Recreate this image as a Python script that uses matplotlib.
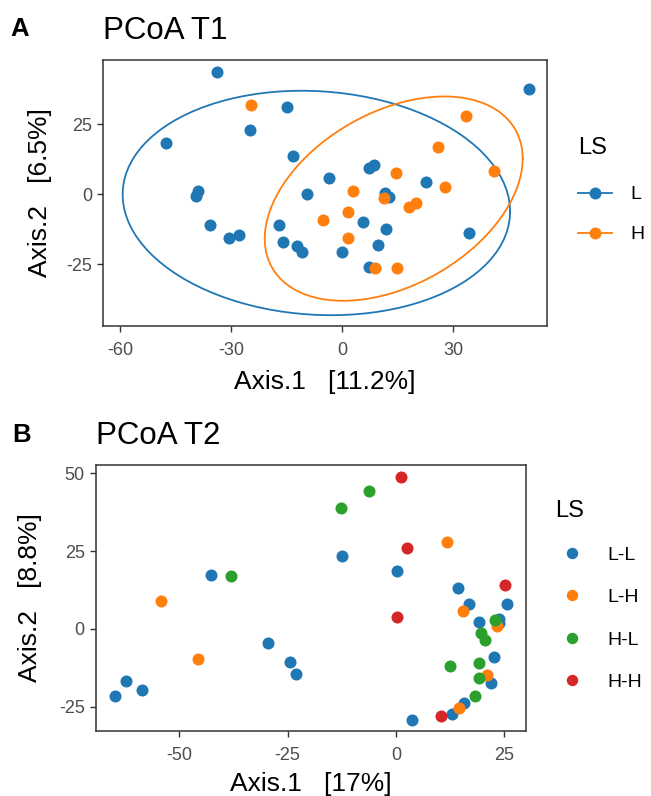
import numpy as np
import matplotlib
matplotlib.use("Agg")
import matplotlib.pyplot as plt
from matplotlib.lines import Line2D

plt.rcParams['font.family'] = ['Liberation Sans', 'DejaVu Sans']
plt.rcParams['axes.unicode_minus'] = False

# panel A (T1) - group L / H
t1_L_x = [-34.0, 50.4, -15.0, -25.0, -47.7, -13.3, 7.3, 8.6, -3.5, 22.6, -39.0, -39.7, -9.7, 11.4,
          12.6, -35.7, -17.1, 5.5, 11.9, -30.7, -27.9, -16.1, -12.3, -10.8, 0.0, 9.5, 34.2, 7.1]
t1_L_y = [43.7, 37.5, 31.3, 23.0, 18.3, 13.7, 9.6, 10.6, 5.7, 4.3, 1.3, -0.5, 0.0, 0.6,
          -0.8, -11.1, -11.0, -10.0, -12.3, -15.5, -14.5, -16.9, -18.5, -20.5, -20.5, -17.9, -13.8, -26.1]
t1_H_x = [-24.7, 33.5, 25.9, 40.9, 14.5, 27.7, 3.0, 11.3, 19.9, 18.0, 1.4, -5.3, 1.6, 8.7, 14.8]
t1_H_y = [32.1, 27.9, 16.8, 8.5, 7.7, 2.7, 1.3, -1.2, -3.0, -4.4, -6.3, -9.0, -15.7, -26.4, -26.4]

# panel B (T2) - groups L-L, L-H, H-L, H-H
t2_LL_x = [-64.8, -62.3, -58.5, -42.6, -29.5, -24.5, -23.1, -12.5, 0.3, 14.2, 16.8, 25.7, 19.1, 23.8,
           23.7, 22.6, 21.9, 15.8, 13.0, 3.8]
t2_LL_y = [-21.6, -16.8, -19.6, 17.5, -4.6, -10.6, -14.6, 23.3, 18.5, 13.3, 8.1, 8.1, 2.1, 3.1,
           1.8, -9.1, -17.5, -23.9, -27.4, -29.3]
t2_LH_x = [-54.2, -45.8, 11.7, 15.4, 23.2, 21.1, 14.6]
t2_LH_y = [9.0, -9.6, 28.0, 5.9, 0.8, -14.9, -25.3]
t2_HL_x = [-6.2, -12.8, -38.1, 22.9, 19.7, 20.5, 12.5, 19.1, 19.1, 18.2]
t2_HL_y = [44.3, 38.8, 16.9, 2.9, -1.2, -3.5, -11.8, -11.0, -15.9, -21.7]
t2_HH_x = [1.1, 2.6, 25.1, 0.2, 10.3]
t2_HH_y = [49.0, 25.9, 14.0, 3.9, -28.0]

blue, orange, green, red = '#1F77B4', '#FF7F0E', '#2CA02C', '#D62728'


def stat_ellipse(x, y, level=0.95, nu=5, segments=101):
    # same idea as ggplot2 stat_ellipse(type = "t"): robust t covariance (cov.trob)
    X = np.column_stack([x, y]).astype(float)
    n, p = X.shape
    w = np.ones(n)
    loc = X.mean(axis=0)
    for _ in range(200):
        w0 = w
        Xc = X - loc
        sw = np.sqrt(w / w.sum())
        _, s, vt = np.linalg.svd(sw[:, None] * Xc, full_matrices=False)
        wX = Xc @ vt.T / s
        Q = (wX ** 2).sum(axis=1)
        w = (nu + p) / (nu + Q)
        loc = (w[:, None] * X).sum(axis=0) / w.sum()
        if np.all(np.abs(w - w0) < 1e-4):
            break
    Xw = np.sqrt(w)[:, None] * Xc
    cov = Xw.T @ Xw / n
    d = n - 1
    qf = d / 2.0 * ((1 - level) ** (-2.0 / d) - 1)
    radius = np.sqrt(2 * qf)
    chol = np.linalg.cholesky(cov).T
    t = np.linspace(0, 2 * np.pi, segments)
    circ = np.column_stack([np.cos(t), np.sin(t)])
    ell = loc + radius * (circ @ chol)
    return ell[:, 0], ell[:, 1]


def style_axes(ax):
    for sp in ax.spines.values():
        sp.set_color('#333333')
        sp.set_linewidth(1.1)
    ax.tick_params(colors='#333333', labelcolor='#4D4D4D', labelsize=13,
                   length=4.3, width=1.0)
    ax.tick_params(axis='x', pad=7)
    ax.tick_params(axis='y', pad=3.5)


fig = plt.figure(figsize=(6.51, 7.96), dpi=100)
W, H = 651.0, 796.0

# ---- panel A
axA = fig.add_axes([103 / W, 1 - 326 / H, 444 / W, 266 / H])
ex, ey = stat_ellipse(t1_L_x, t1_L_y)
axA.plot(ex, ey, color=blue, lw=1.3)
ex, ey = stat_ellipse(t1_H_x, t1_H_y)
axA.plot(ex, ey, color=orange, lw=1.3)
axA.scatter(t1_L_x, t1_L_y, s=75, color=blue, linewidths=0, zorder=3)
axA.scatter(t1_H_x, t1_H_y, s=75, color=orange, linewidths=0, zorder=3)
axA.set_xlim(-64.7, 55.3)
axA.set_ylim(-47, 48)
axA.set_xticks([-60, -30, 0, 30])
axA.set_yticks([-25, 0, 25])
style_axes(axA)
axA.set_xlabel('Axis.1   [11.2%]', fontsize=19, labelpad=8)
axA.set_ylabel('Axis.2   [6.5%]', fontsize=19)
axA.yaxis.set_label_coords(-0.115, 0.5)
axA.set_title('PCoA T1', fontsize=22.5, loc='left', pad=15)
fig.text(10 / W, 1 - 36 / H, 'A', fontsize=18.5, fontweight='bold', va='baseline')
hA = [Line2D([], [], color=blue, lw=1.3, marker='o', markersize=8.6, markeredgewidth=0),
      Line2D([], [], color=orange, lw=1.3, marker='o', markersize=8.6, markeredgewidth=0)]
legA = axA.legend(hA, ['L', 'H'], title='LS', loc='upper left', bbox_to_anchor=(1.052, 0.739),
                  frameon=False, fontsize=14, title_fontsize=17, handlelength=1.75,
                  handletextpad=0.95, labelspacing=1.15, alignment='left', borderaxespad=0)
legA._legend_box.sep += 3

# ---- panel B
axB = fig.add_axes([95.7 / W, 1 - 731 / H, 430.3 / W, 266 / H])
axB.scatter(t2_LL_x, t2_LL_y, s=75, color=blue, linewidths=0, zorder=3)
axB.scatter(t2_LH_x, t2_LH_y, s=75, color=orange, linewidths=0, zorder=3)
axB.scatter(t2_HL_x, t2_HL_y, s=75, color=green, linewidths=0, zorder=3)
axB.scatter(t2_HH_x, t2_HH_y, s=75, color=red, linewidths=0, zorder=3)
axB.set_xlim(-69.3, 30.0)
axB.set_ylim(-32.8, 52.7)
axB.set_xticks([-50, -25, 0, 25])
axB.set_yticks([-25, 0, 25, 50])
style_axes(axB)
axB.set_xlabel('Axis.1   [17%]', fontsize=19, labelpad=6)
axB.set_ylabel('Axis.2   [8.8%]', fontsize=19)
axB.yaxis.set_label_coords(-0.124, 0.5)
axB.set_title('PCoA T2', fontsize=22.5, loc='left', pad=15)
fig.text(12 / W, 1 - 442 / H, 'B', fontsize=18.5, fontweight='bold', va='baseline')
hB = [Line2D([], [], color=c, lw=0, marker='o', markersize=8.2, markeredgewidth=0)
      for c in (blue, orange, green, red)]
axB.legend(hB, ['L-L', 'L-H', 'H-L', 'H-H'], title='LS', loc='upper left',
           bbox_to_anchor=(1.05, 0.899), frameon=False, fontsize=14, title_fontsize=17,
           handlelength=1.75, handletextpad=0.95, labelspacing=1.27, alignment='left',
           borderaxespad=0)

fig.savefig('out.png', dpi=100)
